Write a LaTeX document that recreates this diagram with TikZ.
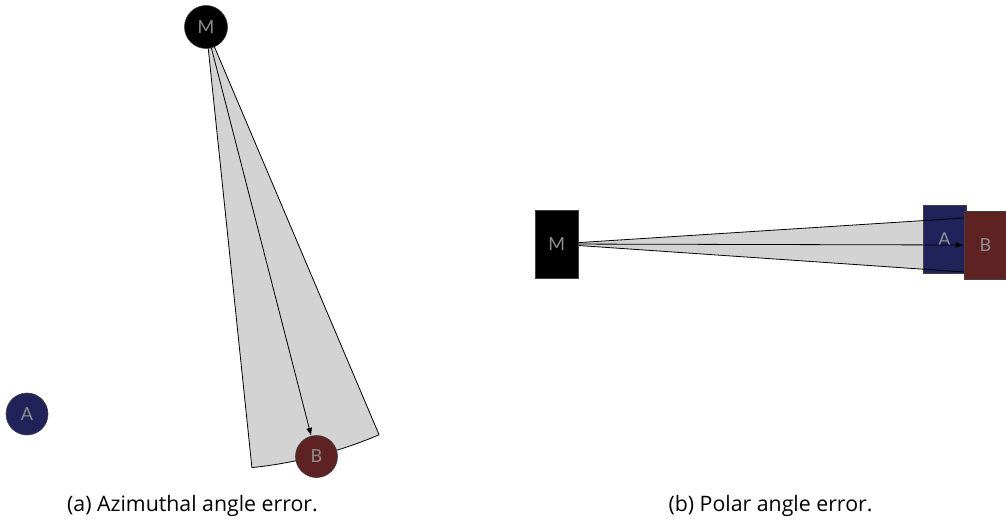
\documentclass[tikz,border=0pt]{standalone}
\usepackage{fontspec}
\setmainfont{Lato}
\setsansfont{Lato}
\newfontfamily\capfont{Open Sans}
\usetikzlibrary{arrows.meta}
\definecolor{wedgegray}{HTML}{D3D3D3}
\definecolor{anavy}{HTML}{22225A}
\definecolor{bmaroon}{HTML}{5E2222}
\definecolor{labelgray}{HTML}{8E8E8E}
\begin{document}
\begin{tikzpicture}[x=1pt,y=-1pt,
  every node/.style={font=\fontsize{18}{20}\selectfont},
  ball/.style={circle, draw=black!75, line width=0.6pt, minimum size=42pt, inner sep=0pt, text=labelgray},
  blockbox/.style={rectangle, draw=black!75, line width=0.6pt, minimum width=43pt, minimum height=68pt, inner sep=0pt, text=labelgray},
  wedge/.style={fill=wedgegray, draw=black, line width=0.8pt, line join=round},
  edge/.style={draw=black, line width=0.8pt},
  ray/.style={draw=black, line width=0.8pt, -{Latex[length=8pt,width=6pt]}},
  caption/.style={anchor=base, text=black, font=\capfont\fontsize{21.3}{23}\selectfont}]
\useasboundingbox (0,0) rectangle (1006,519);
% ---------- (a) azimuthal ----------
\coordinate (Mac) at (206,27);
\filldraw[wedge] (Mac) -- ++(84.05:443) arc[start angle=84.05, end angle=67.0, radius=443] -- cycle;
\node[ball, fill=bmaroon] (Ba) at (316.5,456.5) {B};
\draw[ray] (Mac) -- (Ba);
\node[ball, fill=black, minimum size=43pt] (Ma) at (Mac) {M};
\node[ball, fill=anavy] (Aa) at (27,414) {A};
\node[caption] (capa) at (192.5,511) {(a) Azimuthal angle error.};
% ---------- (b) polar ----------
\coordinate (Mbc) at (556.7,244);
\coordinate (wtop) at (964,218);
\coordinate (wbot) at (964,272);
\fill[wedgegray] (Mbc) -- (wtop) -- (wbot) -- cycle;
\node[blockbox, fill=anavy] (Ab) at (944.5,239) {A};
\draw[edge] (wtop) -- (Mbc) -- (wbot);
\node[blockbox, fill=bmaroon] (Bb) at (985.5,245) {B};
\draw[ray] (Mbc) -- (Bb.west);
\node[blockbox, fill=black] (Mb) at (Mbc) {M};
\node[caption] (capb) at (770.5,511) {(b) Polar angle error.};
\end{tikzpicture}
\end{document}
